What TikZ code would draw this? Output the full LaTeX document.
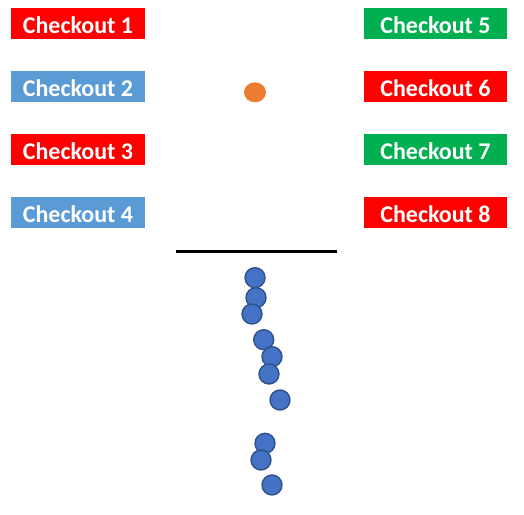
\documentclass[tikz,border=0pt]{standalone}
\usepackage{fontspec}
\setmainfont{Carlito}
\usetikzlibrary{shapes.geometric}
\definecolor{colorred}{HTML}{FF0000}
\definecolor{colorblue}{HTML}{5B9BD5}
\definecolor{colorgreen}{HTML}{00B050}
\definecolor{colordot}{HTML}{4472C4}
\definecolor{colordotline}{HTML}{2F528F}
\definecolor{colororange}{HTML}{ED7D31}

\begin{document}
\begin{tikzpicture}[x=1pt, y=-1pt,
    till/.style={inner sep=0pt, minimum height=31pt, text=white,
        text height=20pt, text depth=0pt,
        font=\fontsize{24}{28}\selectfont\bfseries},
    tillL/.style={till, minimum width=134pt},
    tillR/.style={till, minimum width=143pt},
    shopper/.style={circle, fill=colordot, draw=colordotline, line width=1.4pt,
        minimum size=20pt, inner sep=0pt}]
    \useasboundingbox (0,0) rectangle (524,514);
    % checkouts
    \node[tillL, fill=colorred]   (co1) at (78,23.5)  {Checkout 1};
    \node[tillL, fill=colorblue]  (co2) at (78,86.5)  {Checkout 2};
    \node[tillL, fill=colorred]   (co3) at (78,149.5) {Checkout 3};
    \node[tillL, fill=colorblue]  (co4) at (78,212.5) {Checkout 4};
    \node[tillR, fill=colorgreen] (co5) at (435.5,23.5)  {Checkout 5};
    \node[tillR, fill=colorred]   (co6) at (435.5,86.5)  {Checkout 6};
    \node[tillR, fill=colorgreen] (co7) at (435.5,149.5) {Checkout 7};
    \node[tillR, fill=colorred]   (co8) at (435.5,212.5) {Checkout 8};
    % the one being served
    \node[ellipse, fill=colororange, minimum width=22pt, minimum height=20pt,
        inner sep=0pt] (served) at (255,92.3) {};
    % queue line
    \coordinate (lineA) at (176,251.5);
    \coordinate (lineB) at (337,251.5);
    \draw[line width=3pt] (lineA) -- (lineB);
    % queue
    \node[shopper] (p1)  at (255,277.7) {};
    \node[shopper] (p2)  at (256,297.7) {};
    \node[shopper] (p3)  at (252,314)   {};
    \node[shopper] (p4)  at (263.7,339.7) {};
    \node[shopper] (p5)  at (272,356.7) {};
    \node[shopper] (p6)  at (269,374)   {};
    \node[shopper] (p7)  at (280,400)   {};
    \node[shopper] (p8)  at (265,443.3) {};
    \node[shopper] (p9)  at (261,460)   {};
    \node[shopper] (p10) at (272,485)   {};
\end{tikzpicture}
\end{document}
